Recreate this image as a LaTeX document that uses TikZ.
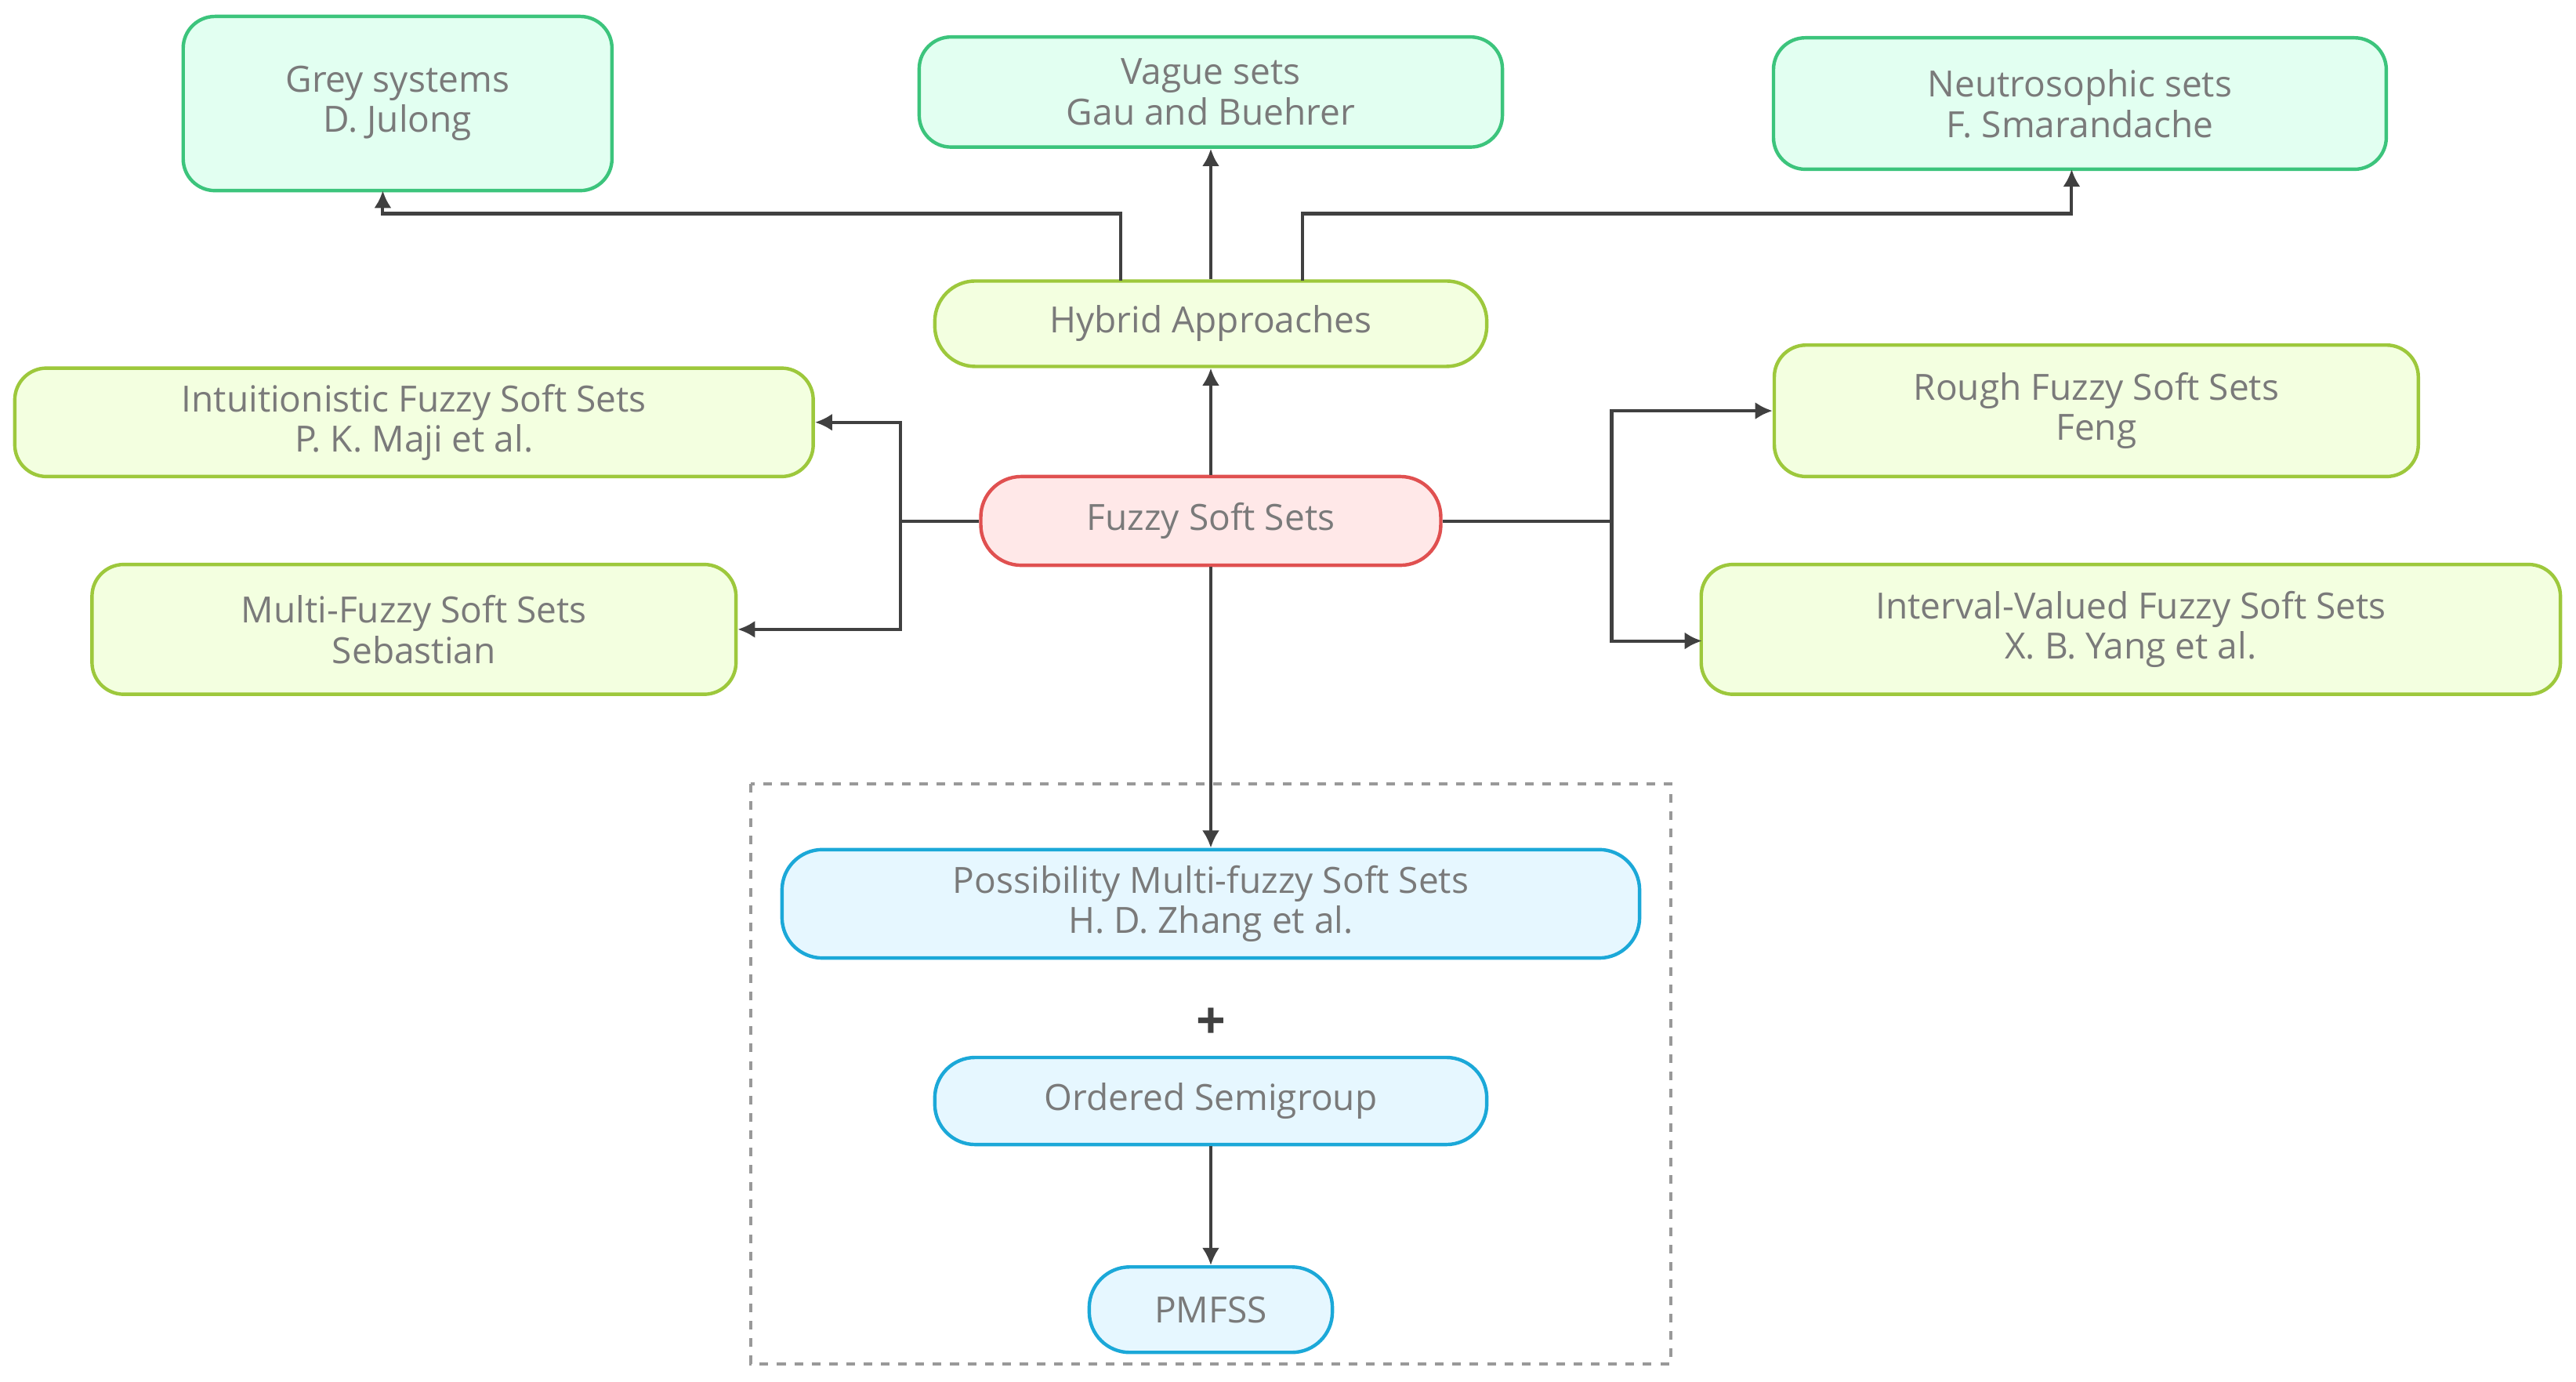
\documentclass[tikz,border=0pt]{standalone}
\usepackage{fontspec}
\setmainfont{Open Sans}
\usetikzlibrary{arrows.meta}
\definecolor{txt}{HTML}{7A7A7A}
\definecolor{gf}{HTML}{E2FFF1}\definecolor{gd}{HTML}{3CC47C}
\definecolor{yf}{HTML}{F3FFE0}\definecolor{yd}{HTML}{9DC83C}
\definecolor{rf}{HTML}{FFE8E8}\definecolor{rd}{HTML}{E05050}
\definecolor{bf}{HTML}{E6F7FF}\definecolor{bd}{HTML}{1BA8D8}
\definecolor{ln}{HTML}{404040}
\tikzset{
 box/.style={draw, line width=1.2pt, rounded corners=11pt, align=center, text=txt, font=\fontsize{12.5}{14}\selectfont, inner sep=0pt},
 gbox/.style={box, fill=gf, draw=gd},
 ybox/.style={box, fill=yf, draw=yd},
 rbox/.style={box, fill=rf, draw=rd, rounded corners=14pt},
 bbox/.style={box, fill=bf, draw=bd, rounded corners=14pt},
 arr/.style={draw=ln, line width=1.1pt, -{Latex[length=6pt,width=6pt]}},
}
\begin{document}
\begin{tikzpicture}[x=0.02cm,y=-0.02cm]
\useasboundingbox (0,0) rectangle (1568,841);
\node[gbox, minimum width=261*0.02cm, minimum height=106*0.02cm] (grey) at (242,63) {Grey systems\\D. Julong};
\node[gbox, minimum width=355*0.02cm, minimum height=67*0.02cm] (vague) at (737,56) {Vague sets\\Gau and Buehrer};
\node[gbox, minimum width=373*0.02cm, minimum height=80*0.02cm] (neutro) at (1266,63) {Neutrosophic sets\\F. Smarandache};
\node[ybox, minimum width=336*0.02cm, minimum height=52*0.02cm, rounded corners=14pt] (hyb) at (737,197) {Hybrid Approaches};
\node[ybox, minimum width=486*0.02cm, minimum height=66*0.02cm] (intu) at (252,257) {Intuitionistic Fuzzy Soft Sets\\P. K. Maji et al.};
\node[ybox, minimum width=392*0.02cm, minimum height=80*0.02cm] (rough) at (1276,250) {Rough Fuzzy Soft Sets\\Feng};
\node[rbox, minimum width=280*0.02cm, minimum height=54*0.02cm] (fuzzy) at (737,317) {Fuzzy Soft Sets};
\node[ybox, minimum width=392*0.02cm, minimum height=79*0.02cm] (multi) at (252,383) {Multi-Fuzzy Soft Sets\\Sebastian};
\node[ybox, minimum width=523*0.02cm, minimum height=79*0.02cm] (inter) at (1297,383) {Interval-Valued Fuzzy Soft Sets\\X. B. Yang et al.};
\draw[draw=gray!80, dashed, line width=1.1pt] (457,477) rectangle (1017,830);
\node[bbox, minimum width=522*0.02cm, minimum height=66*0.02cm] (poss) at (737,550) {Possibility Multi-fuzzy Soft Sets\\H. D. Zhang et al.};
\node[text=ln, font=\fontsize{18}{18}\selectfont\bfseries] (plus) at (737,623) {+};
\node[bbox, minimum width=336*0.02cm, minimum height=53*0.02cm] (ord) at (737,670) {Ordered Semigroup};
\node[bbox, minimum width=148*0.02cm, minimum height=52*0.02cm] (pm) at (737,797) {PMFSS};
% hybrid branches
\coordinate (h1) at (682,171);
\coordinate (h2) at (793,171);
\draw[arr] (h1) |- (233,130) -- (233,116);
\draw[arr] (hyb) -- (vague);
\draw[arr] (h2) |- (1261,130) -- (1261,103);
\draw[arr] (fuzzy) -- (hyb);
% left
\draw[draw=ln, line width=1.1pt] (fuzzy.west) -- (548,317);
\draw[arr] (548,317) |- (intu.east);
\draw[arr] (548,317) |- (multi.east);
% right
\draw[draw=ln, line width=1.1pt] (fuzzy.east) -- (981,317);
\draw[arr] (981,317) |- (rough.west);
\draw[arr] (981,317) |- (1036,390);
\draw[arr] (fuzzy) -- (poss);
\draw[arr] (ord) -- (pm);
\end{tikzpicture}
\end{document}
